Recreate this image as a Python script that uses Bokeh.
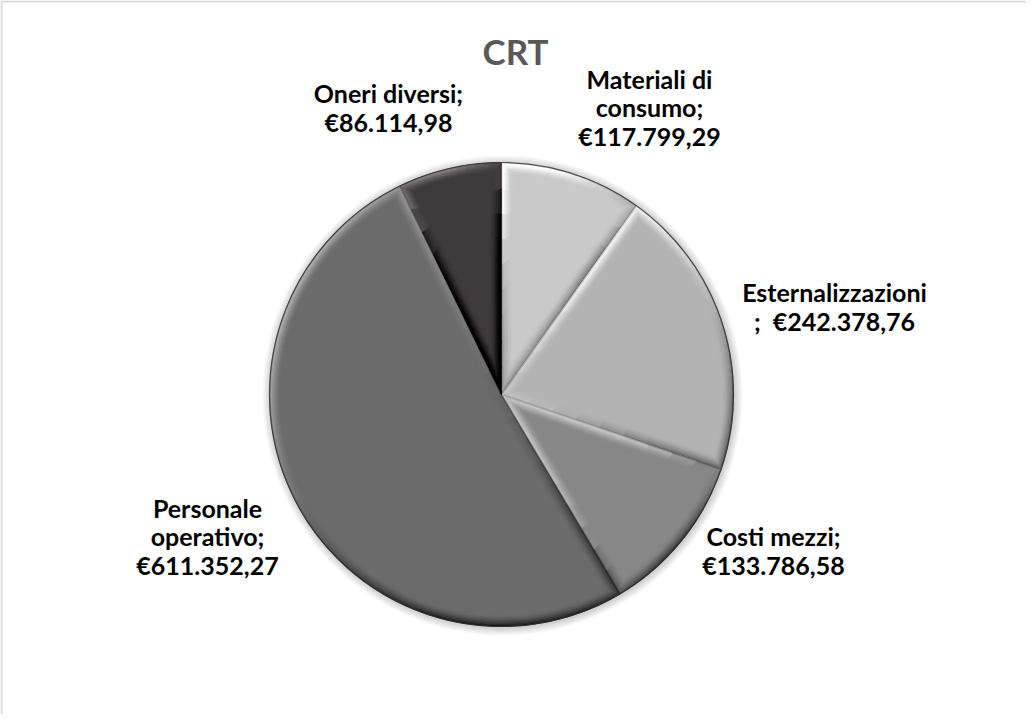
import numpy as np
from bokeh.plotting import figure
from bokeh.models import Range1d
from bokeh.core.properties import value
from bokeh.embed import file_html
from bokeh.resources import INLINE

# ---------------- data ----------------
categories = ["Materiali di consumo", "Esternalizzazioni", "Costi mezzi",
              "Personale operativo", "Oneri diversi"]
label_names = ["Materiali di\nconsumo;\n", "Esternalizzazioni\n;\u00a0 ", "Costi mezzi;\n",
               "Personale\noperativo;\n", "Oneri diversi;\n"]
costs = [117799.29, 242378.76, 133786.58, 611352.27, 86114.98]
colors = ["#c9c9c9", "#b3b3b3", "#878787", "#6b6b6b", "#3f3a3b"]
title_text = "CRT"

# ---------------- layout ----------------
W, H = 1026, 714
CX, CY = 509, 730 - 402       # pie centre (data coords: y up)
R = 232
BEVEL = 11.0
LIGHT = np.array([-0.55, 0.85]); LIGHT = LIGHT / np.linalg.norm(LIGHT)
label_pos = [(657, 115), (842, 314), (781, 558), (215, 544), (396, 115)]
FONT = "Lato"


def eur(v):
    s = f"{v:,.2f}"
    s = s.replace(",", "X").replace(".", ",").replace("X", ".")
    return "€" + s


p = figure(width=W, height=H, x_range=Range1d(8, 8 + W), y_range=Range1d(730 - 8 - H, 722),
           output_backend="svg", toolbar_location=None, x_axis_type=None, y_axis_type=None,
           min_border=0, tools="")
p.grid.visible = False
p.outline_line_color = None
p.background_fill_color = "white"
p.border_fill_color = "white"

# chart border (top + left visible)
p.line(x=[9, 9], y=[0, 721], line_color="#d9d9d9", line_width=2)
p.line(x=[9, 1034], y=[721, 721], line_color="#d9d9d9", line_width=2)

# soft shadow
for k in range(8, 0, -1):
    p.circle(x=[CX + 1], y=[CY - 1], radius=R + k, fill_color="black", fill_alpha=0.022,
             line_color=None)

vals = np.array(costs, dtype=float)
frac = np.concatenate([[0], np.cumsum(vals)]) / vals.sum()
cw_start = frac[:-1] * 2 * np.pi
cw_end = frac[1:] * 2 * np.pi
a1s = np.pi / 2 - cw_end      # math angles, counter-clockwise from a1 to a2
a2s = np.pi / 2 - cw_start

# base slices
p.wedge(x=CX, y=CY, radius=R, start_angle=a1s, end_angle=a2s, fill_color=colors,
        line_color=None)


def hex2gray(h):
    h = h.lstrip("#")
    return np.array([int(h[i:i + 2], 16) for i in (0, 2, 4)], dtype=float)


def to_hex(c):
    c = np.clip(np.round(c), 0, 255).astype(int)
    return "#%02x%02x%02x" % tuple(c)


def inset_curve(a1, a2, d, M=10, J=10):
    th = a2 - a1
    rr = R - d
    da = np.arcsin(d / rr) if d > 0 else 0.0
    b1, b2 = a1 + da, a2 - da
    n1 = np.array([np.cos(a1 + np.pi / 2), np.sin(a1 + np.pi / 2)])
    n2 = np.array([np.cos(a2 - np.pi / 2), np.sin(a2 - np.pi / 2)])
    if th < np.pi:
        mid = (a1 + a2) / 2
        apex = np.array([np.cos(mid), np.sin(mid)]) * (d / np.sin(th / 2))
        e1s, e2e = apex, apex
        apex_pts = np.repeat(apex[None, :], J, axis=0)
    else:
        e1s, e2e = d * n1, d * n2
        ph = np.linspace(a2 - np.pi / 2, a1 + np.pi / 2, J)
        apex_pts = d * np.stack([np.cos(ph), np.sin(ph)], axis=1)
    K = max(8, int(np.degrees(th) / 2))
    arc_s = rr * np.array([np.cos(b1), np.sin(b1)])
    arc_e = rr * np.array([np.cos(b2), np.sin(b2)])
    t = np.linspace(0, 1, M)[:, None]
    E1 = e1s + (arc_s - e1s) * t
    ph = np.linspace(b1, b2, K)
    ARC = rr * np.stack([np.cos(ph), np.sin(ph)], axis=1)
    E2 = arc_e + (e2e - arc_e) * t
    return np.concatenate([E1, ARC, E2, apex_pts], axis=0)


depths = np.linspace(0, BEVEL, 9)
xs, ys, cols = [], [], []
for i in range(len(vals)):
    base = hex2gray(colors[i])
    amp = 90 if base.mean() > 90 else 95
    curves = [inset_curve(a1s[i], a2s[i], d) for d in depths]
    for k in range(len(depths) - 1):
        Co, Ci = curves[k], curves[k + 1]
        tmid = (depths[k] + depths[k + 1]) / 2 / BEVEL
        slope = (1 - tmid) ** 1.4
        for j in range(len(Co) - 1):
            q = np.array([Co[j], Co[j + 1], Ci[j + 1], Ci[j]])
            nvec = (Co[j] + Co[j + 1]) / 2 - (Ci[j] + Ci[j + 1]) / 2
            nn = np.linalg.norm(nvec)
            if nn < 1e-9:
                continue
            nvec = nvec / nn
            shade = base + amp * slope * float(nvec @ LIGHT)
            if k == 0:
                shade = shade * 0.8
            c = to_hex(shade)
            xs.append(list(q[:, 0] + CX))
            ys.append(list(q[:, 1] + CY))
            cols.append(c)

p.patches(xs=xs, ys=ys, fill_color=cols, line_color=cols, line_width=0.6)

# outer rim dark line
p.circle(x=[CX], y=[CY], radius=R, fill_color=None, line_color="#2e2e2e", line_width=1.2,
         line_alpha=0.8)

# labels
labels = [label_names[i] + eur(costs[i]) for i in range(len(costs))]
p.text(x=[q[0] for q in label_pos], y=[730 - q[1] for q in label_pos], text=labels,
       text_font=value(FONT), text_font_style="bold", text_font_size="25px",
       text_color="black", text_align="center", text_baseline="middle",
       text_line_height=0.94)

# title
p.text(x=[523], y=[730 - 58], text=[title_text], text_font=value(FONT),
       text_font_style="bold", text_font_size="35px", text_color="#595959",
       text_align="center", text_baseline="middle")

open("out.html", "w").write(file_html(p, INLINE))
